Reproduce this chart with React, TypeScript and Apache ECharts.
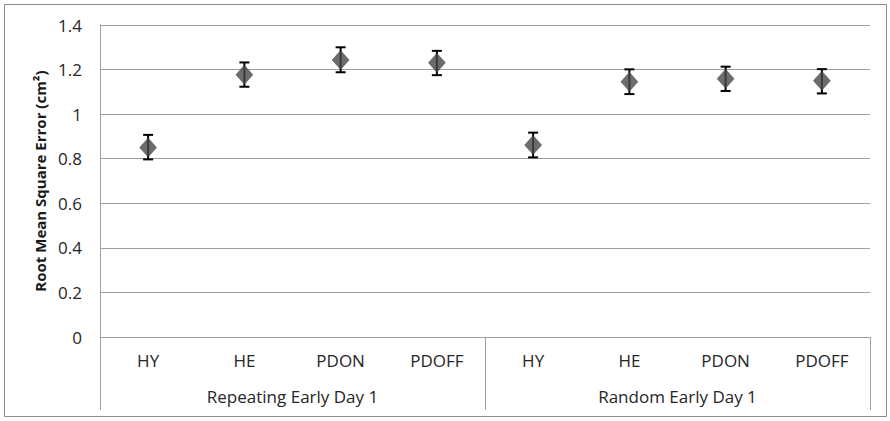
import React, { useEffect, useRef } from "react";
import * as echarts from "echarts";

const conditions = ["HY", "HE", "PDON", "PDOFF", "HY", "HE", "PDON", "PDOFF"];
const groups = ["Repeating Early Day 1", "Random Early Day 1"];
const rmse = [0.85, 1.177, 1.243, 1.231, 0.861, 1.145, 1.159, 1.15];
const errLow = [0.797, 1.123, 1.188, 1.175, 0.806, 1.09, 1.104, 1.093];
const errHigh = [0.907, 1.232, 1.3, 1.284, 0.917, 1.201, 1.213, 1.202];
const yTicks = { min: 0, max: 1.4, interval: 0.2 };

const FONT = "'Open Sans', 'Noto Sans', sans-serif";

export default function App() {
  const ref = useRef<HTMLDivElement>(null);
  useEffect(() => {
    if (!ref.current) return;
    const chart = echarts.init(ref.current, null, { renderer: "svg" });
    const errData = conditions.map((_, i) => [i, errLow[i], errHigh[i]]);
    chart.setOption({
      animation: false,
      backgroundColor: "#ffffff",
      textStyle: { fontFamily: FONT },
      grid: { left: 100, right: 20, top: 25, bottom: 84 },
      graphic: [
        {
          type: "rect",
          shape: { x: 4.5, y: 4.5, width: 882, height: 412 },
          style: { fill: "none", stroke: "#8c8c8c", lineWidth: 1 },
          silent: true,
        },
      ],
      xAxis: [
        {
          type: "category",
          data: conditions,
          position: "bottom",
          axisLine: { show: true, lineStyle: { color: "#a0a0a0", width: 1 } },
          axisTick: { show: false },
          axisLabel: {
            interval: 0,
            margin: 15,
            fontSize: 17,
            color: "#262626",
            fontFamily: FONT,
          },
        },
        {
          type: "category",
          data: groups,
          position: "bottom",
          axisLine: { show: false },
          axisTick: { show: true, length: 73, lineStyle: { color: "#a0a0a0", width: 1 } },
          axisLabel: {
            interval: 0,
            margin: 51,
            fontSize: 17,
            color: "#262626",
            fontFamily: FONT,
          },
        },
      ],
      yAxis: {
        type: "value",
        min: yTicks.min,
        max: yTicks.max,
        interval: yTicks.interval,
        name: "Root Mean Square Error (cm²)",
        nameLocation: "middle",
        nameGap: 51,
        nameTextStyle: {
          fontSize: 15,
          fontWeight: "bold",
          color: "#1a1a1a",
          fontFamily: FONT,
        },
        axisLine: { show: true, lineStyle: { color: "#a0a0a0", width: 1 } },
        axisTick: { show: false },
        splitLine: { show: true, lineStyle: { color: "#a0a0a0", width: 1 } },
        axisLabel: {
          margin: 18,
          fontSize: 17,
          color: "#262626",
          fontFamily: FONT,
          formatter: (v: number) => String(Math.round(v * 10) / 10),
        },
      },
      series: [
        {
          type: "custom",
          xAxisIndex: 0,
          data: errData,
          z: 3,
          renderItem: (params: any, api: any) => {
            const x = api.value(0);
            const lo = api.coord([x, api.value(1)]);
            const hi = api.coord([x, api.value(2)]);
            const hw = 5;
            const style = { stroke: "#000000", lineWidth: 2 };
            return {
              type: "group",
              children: [
                { type: "line", shape: { x1: lo[0], y1: lo[1], x2: hi[0], y2: hi[1] }, style },
                { type: "line", shape: { x1: lo[0] - hw, y1: lo[1], x2: lo[0] + hw, y2: lo[1] }, style },
                { type: "line", shape: { x1: hi[0] - hw, y1: hi[1], x2: hi[0] + hw, y2: hi[1] }, style },
              ],
            };
          },
        },
        {
          type: "scatter",
          xAxisIndex: 0,
          data: rmse,
          symbol: "diamond",
          symbolSize: [17, 19],
          z: 4,
          itemStyle: { color: "#474747", borderColor: "#333333", borderWidth: 0.5 },
        },
      ],
    });
    return () => chart.dispose();
  }, []);
  return (
    <div
      ref={ref}
      style={{ position: "absolute", left: 0, top: 0, width: 890, height: 421 }}
    />
  );
}
